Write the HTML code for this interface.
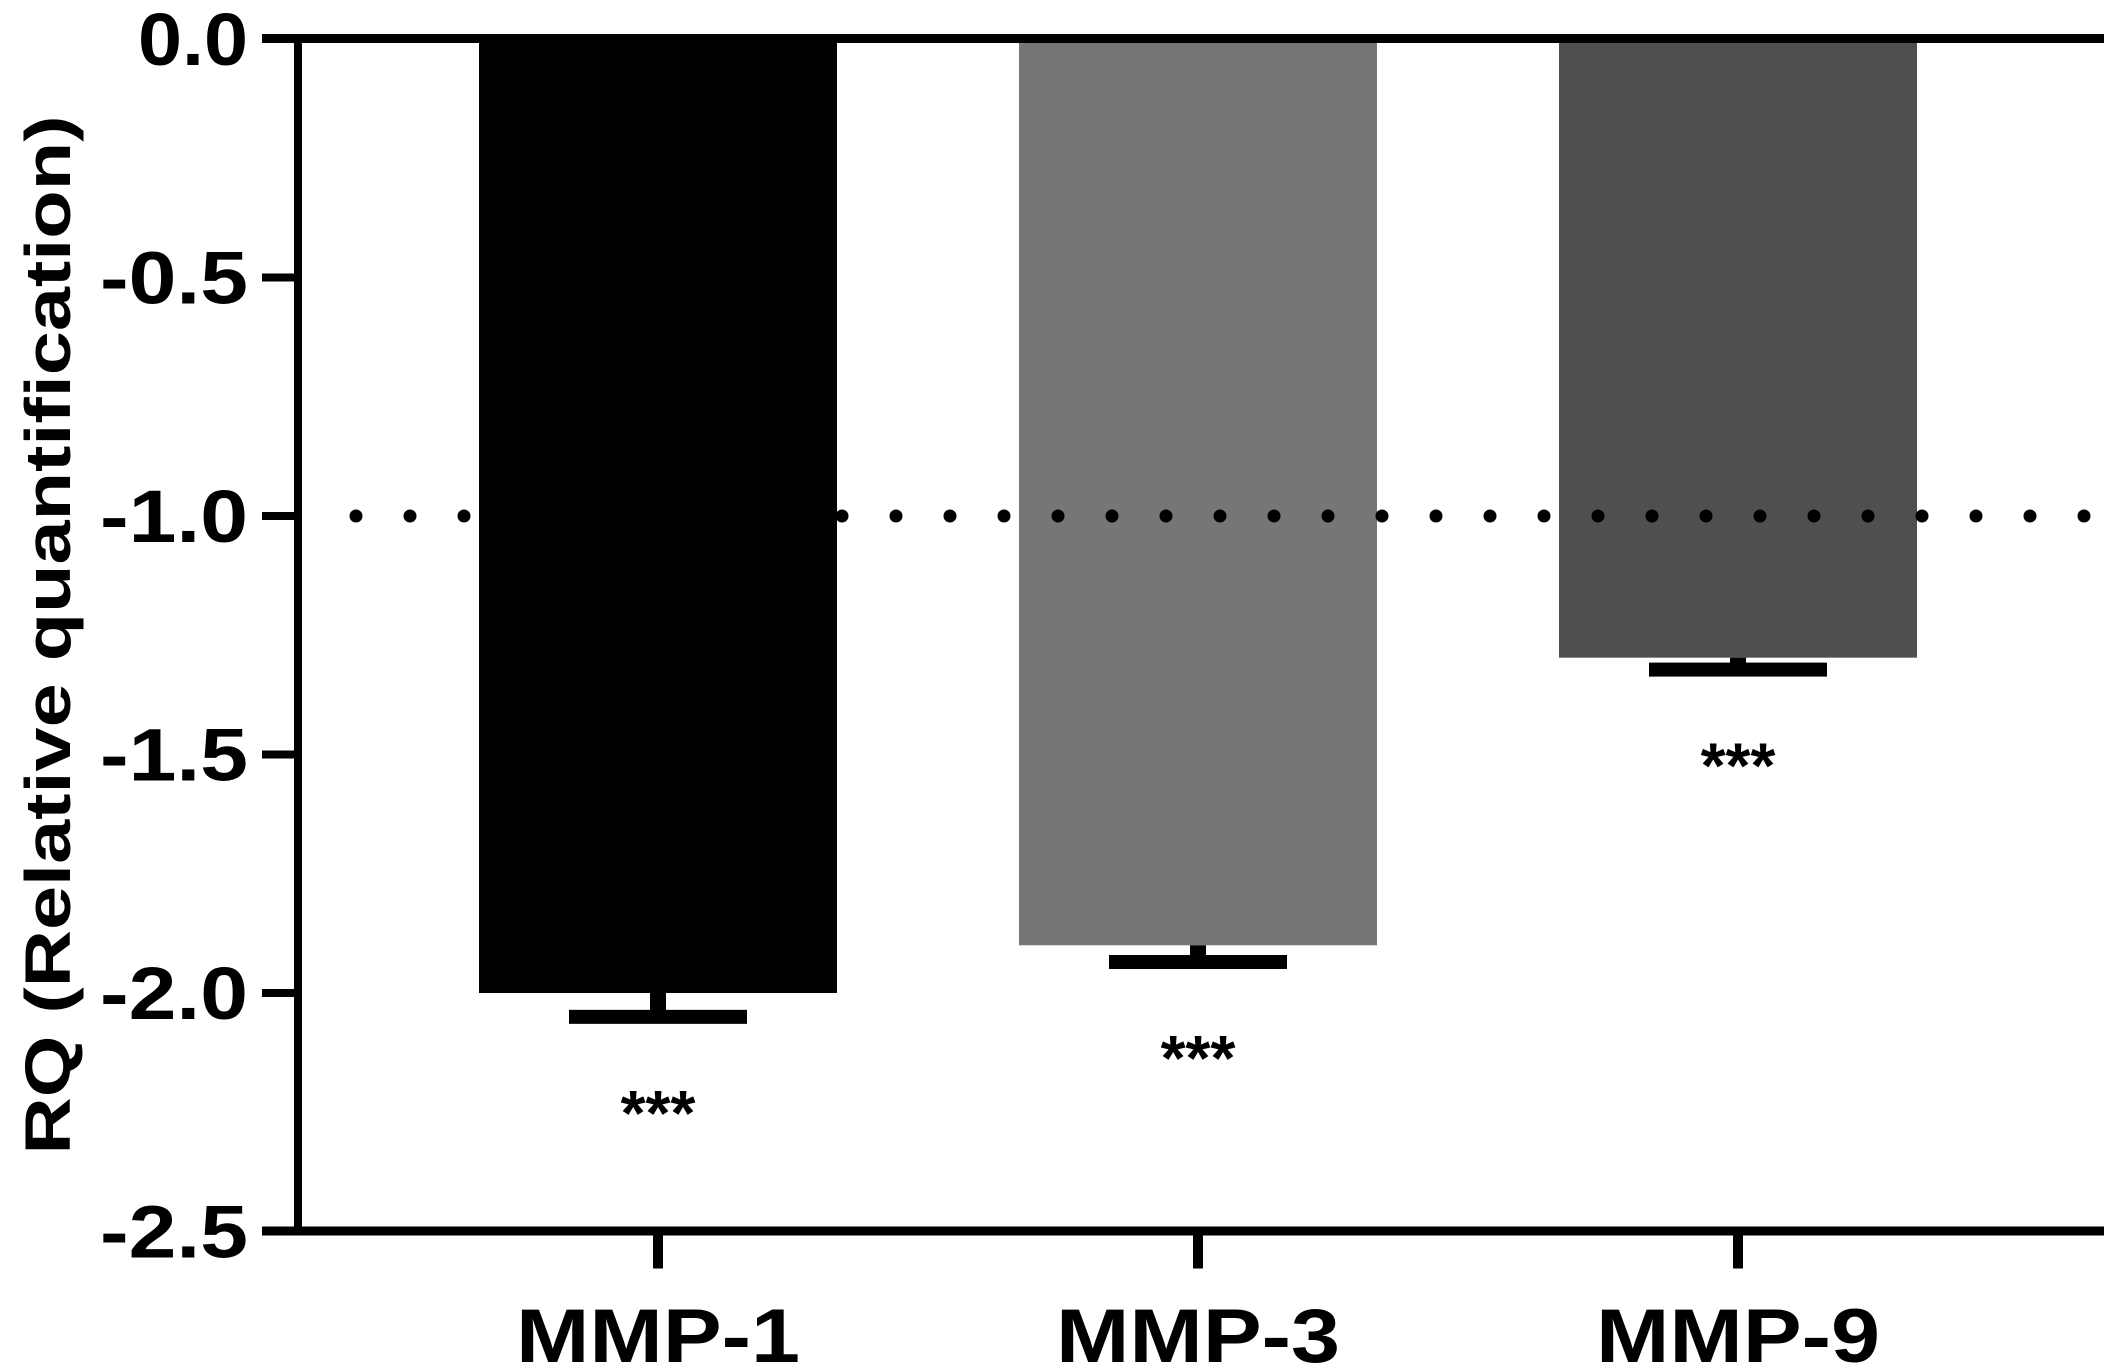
<!DOCTYPE html>
<html><head><meta charset="utf-8"><style>html,body{margin:0;padding:0;background:#fff}svg{display:block}text{font-family:"Liberation Sans",Arial,sans-serif;font-weight:bold;fill:#000}</style></head>
<body>
<svg id="chart" width="2104" height="1367" viewBox="0 0 2104 1367" xmlns="http://www.w3.org/2000/svg"></svg>
<script>
const categories = ["MMP-1", "MMP-3", "MMP-9"];
const values = [-2.0, -1.9, -1.297];
const errors = [0.05, 0.035, 0.025];
const colors = ["#000000", "#767676", "#4f4f4f"];
const yTicks = [0, -0.5, -1.0, -1.5, -2.0, -2.5];
const yTickLabels = ["0.0", "-0.5", "-1.0", "-1.5", "-2.0", "-2.5"];
const sigLabels = ["***", "***", "***"];
const refValue = -1.0;

const NS = "http://www.w3.org/2000/svg";
const svg = document.getElementById("chart");
const X0 = 298, X1 = 2104, Y0 = 39, PX = 477;
const y = v => Y0 - v * PX;
const bandW = 540, bandStart = 388, barW = 358;
const xc = i => bandStart + bandW * i + bandW / 2;
function mk(tag, attrs, parent) {
  const e = document.createElementNS(NS, tag);
  for (const k in attrs) e.setAttribute(k, attrs[k]);
  (parent || svg).appendChild(e);
  return e;
}
// bars
categories.forEach((c, i) => {
  const b = mk("rect", {x: xc(i) - barW / 2, y: y(0), width: barW, height: y(values[i]) - y(0), fill: colors[i]});
  
  
  const ey = y(values[i] - errors[i]);
  const st = mk("rect", {x: xc(i) - 8, y: y(values[i]), width: 16, height: ey - y(values[i]), fill: "#000"});
  
  
  const cap = mk("rect", {x: xc(i) - 89, y: ey - 7, width: 178, height: 14, fill: "#000"});
  
  
  const s = mk("text", {x: xc(i), y: ey + 118, "text-anchor": "middle", "font-size": 64, "font-weight": "normal"});
  s.textContent = sigLabels[i];
  
  
});
// reference dotted line
const ref = mk("line", {x1: 356, x2: 2100, y1: y(refValue), y2: y(refValue), stroke: "#000", "stroke-width": 13, "stroke-linecap": "round", "stroke-dasharray": "0 54"});


// axes
const ya = mk("rect", {x: X0 - 4, y: y(0) - 4, width: 8, height: y(-2.5) - y(0) + 8, fill: "#000"});


const topL = mk("rect", {x: 262, y: y(0) - 5, width: X1 - 262, height: 9, fill: "#000"});


const botL = mk("rect", {x: 262, y: y(-2.5) - 5, width: X1 - 262, height: 9, fill: "#000"});


yTicks.forEach((t, i) => {
  const tk = mk("rect", {x: 262, y: y(t) - 4, width: 36, height: 8, fill: "#000"});
  
  
  const lb = mk("text", {x: 248, y: y(t) + 26, "text-anchor": "end", "font-size": 74, textLength: i === 0 ? 110 : 148, lengthAdjust: "spacingAndGlyphs"});
  lb.textContent = yTickLabels[i];
  
  
});
categories.forEach((c, i) => {
  const tk = mk("rect", {x: xc(i) - 5, y: y(-2.5), width: 10, height: 37, fill: "#000"});
  
  
  const lb = mk("text", {x: xc(i), y: 1362, "text-anchor": "middle", "font-size": 76, textLength: 284, lengthAdjust: "spacingAndGlyphs"});
  lb.textContent = c;
  
  
});
const yt = mk("text", {x: 0, y: 0, transform: "translate(70,635) rotate(-90)", "text-anchor": "middle", "font-size": 64, textLength: 1039, lengthAdjust: "spacingAndGlyphs"});
yt.textContent = "RQ (Relative quantification)";


</script>
</body></html>
